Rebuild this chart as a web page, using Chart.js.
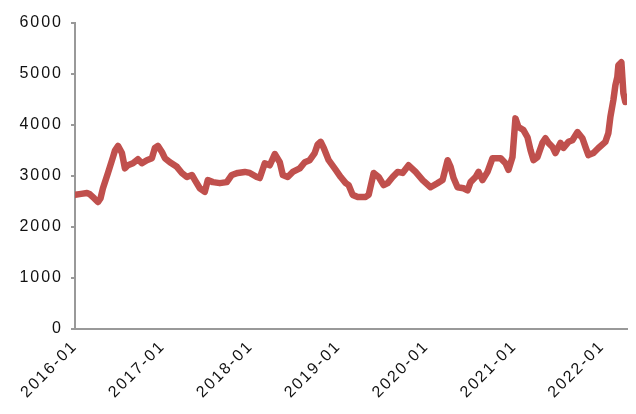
<!DOCTYPE html>
<html>
<head>
<meta charset="utf-8">
<script src="https://cdn.jsdelivr.net/npm/chart.js@4/dist/chart.umd.min.js"></script>
<style>
  html, body { margin: 0; padding: 0; background: #fff; }
  #wrap { width: 636px; height: 414px; }
</style>
</head>
<body>
<div id="wrap"><canvas id="c"></canvas></div>
<script>
// ===== Data =====
const xTickLabels = ["2016-01", "2017-01", "2018-01", "2019-01", "2020-01", "2021-01", "2022-01"];
const yTicks = [0, 1000, 2000, 3000, 4000, 5000, 6000];

// time position in years (2016.0 = 2016-01)
const times = [
  2016.000, 2016.070, 2016.136, 2016.170, 2016.220, 2016.261, 2016.290, 2016.318, 2016.375, 2016.432,
  2016.455, 2016.489, 2016.534, 2016.568, 2016.602, 2016.659, 2016.716, 2016.761, 2016.818, 2016.875,
  2016.909, 2016.943, 2016.989, 2017.023, 2017.080, 2017.159, 2017.216, 2017.273, 2017.330, 2017.364,
  2017.420, 2017.477, 2017.511, 2017.568, 2017.648, 2017.727, 2017.784, 2017.852, 2017.932, 2017.989,
  2018.068, 2018.102, 2018.159, 2018.216, 2018.273, 2018.330, 2018.364, 2018.420, 2018.477, 2018.557,
  2018.614, 2018.670, 2018.727, 2018.761, 2018.795, 2018.830, 2018.886, 2018.966, 2019.023, 2019.080,
  2019.114, 2019.159, 2019.216, 2019.307, 2019.341, 2019.398, 2019.455, 2019.511, 2019.557, 2019.614,
  2019.670, 2019.727, 2019.795, 2019.875, 2019.955, 2020.045, 2020.125, 2020.182, 2020.239, 2020.273,
  2020.307, 2020.352, 2020.420, 2020.466, 2020.500, 2020.557, 2020.591, 2020.636, 2020.693, 2020.750,
  2020.841, 2020.898, 2020.932, 2020.977, 2021.011, 2021.045, 2021.102, 2021.148, 2021.182, 2021.216,
  2021.261, 2021.318, 2021.352, 2021.386, 2021.432, 2021.466, 2021.523, 2021.557, 2021.614, 2021.659,
  2021.716, 2021.773, 2021.807, 2021.841, 2021.898, 2021.955, 2022.034, 2022.068, 2022.091, 2022.125,
  2022.148, 2022.170, 2022.182, 2022.216, 2022.227, 2022.239, 2022.261, 2022.273
];

const prices = [
  2630, 2650, 2665, 2640, 2560, 2490, 2560, 2760, 3060, 3370,
  3500, 3590, 3450, 3150, 3210, 3250, 3330, 3250, 3310, 3350,
  3550, 3590, 3470, 3350, 3270, 3180, 3060, 2980, 3020, 2920,
  2760, 2690, 2920, 2880, 2860, 2880, 3020, 3060, 3080, 3060,
  2980, 2960, 3250, 3210, 3430, 3270, 3020, 2980, 3080, 3150,
  3270, 3310, 3450, 3620, 3670, 3550, 3310, 3120, 2980, 2860,
  2820, 2630, 2590, 2590, 2630, 3060, 2980, 2820, 2860, 2980,
  3080, 3060, 3210, 3080, 2920, 2780, 2860, 2920, 3310, 3180,
  2960, 2780, 2760, 2720, 2880, 2980, 3080, 2920, 3080, 3350,
  3350, 3250, 3120, 3370, 4130, 3960, 3900, 3760, 3510, 3310,
  3370, 3650, 3740, 3650, 3570, 3450, 3650, 3550, 3670, 3700,
  3860, 3740, 3570, 3410, 3450, 3550, 3670, 3840, 4160, 4490,
  4780, 4940, 5170, 5230, 4940, 4620, 4450, 4550
];

// ===== Chart =====
const AXIS_COLOR = "#999999";
const LINE_COLOR = "#C0504D";
const TICK_FONT = { family: "'Liberation Sans', Arial, sans-serif", size: 16 };

// canvas resize resets context state, so re-apply before layout and draw
const spacing = {
  id: "spacing",
  beforeUpdate(chart) { chart.ctx.letterSpacing = "2px"; },
  beforeDraw(chart) { chart.ctx.letterSpacing = "2px"; },
};

new Chart(document.getElementById("c"), {
  type: "line",
  data: {
    datasets: [
      {
        data: times.map((t, i) => ({ x: t, y: prices[i] })),
        borderColor: LINE_COLOR,
        borderWidth: 6.5,
        borderJoinStyle: "round",
        borderCapStyle: "round",
        pointRadius: 0,
        tension: 0,
        fill: false,
      },
    ],
  },
  options: {
    responsive: true,
    maintainAspectRatio: false,
    animation: false,
    layout: { padding: { left: 0, top: 23, right: 9, bottom: 0 } },
    plugins: { legend: { display: false }, tooltip: { enabled: false } },
    scales: {
      x: {
        type: "linear",
        min: 2016,
        max: 2022.28,
        afterFit(scale) { scale.height = 85; },
        afterBuildTicks(scale) {
          scale.ticks = xTickLabels.map((_, i) => ({ value: 2016 + i }));
        },
        ticks: {
          color: "#111",
          font: TICK_FONT,
          minRotation: 45,
          maxRotation: 45,
          padding: 8,
          autoSkip: false,
          callback: (v) => xTickLabels[Math.round(v - 2016)] ?? "",
        },
        grid: { display: true, drawOnChartArea: false, drawTicks: false },
        border: { display: true, color: AXIS_COLOR, width: 2 },
      },
      y: {
        min: 0,
        max: 6000,
        afterFit(scale) { scale.width = 75; },
        afterBuildTicks(scale) {
          scale.ticks = yTicks.map((v) => ({ value: v }));
        },
        ticks: { color: "#111", font: TICK_FONT, padding: 8, callback: (v) => String(v) },
        grid: { display: true, drawOnChartArea: false, drawTicks: true, tickLength: 4, color: AXIS_COLOR, lineWidth: 2 },
        border: { display: true, color: AXIS_COLOR, width: 2 },
      },
    },
  },
  plugins: [spacing],
});
</script>
</body>
</html>
